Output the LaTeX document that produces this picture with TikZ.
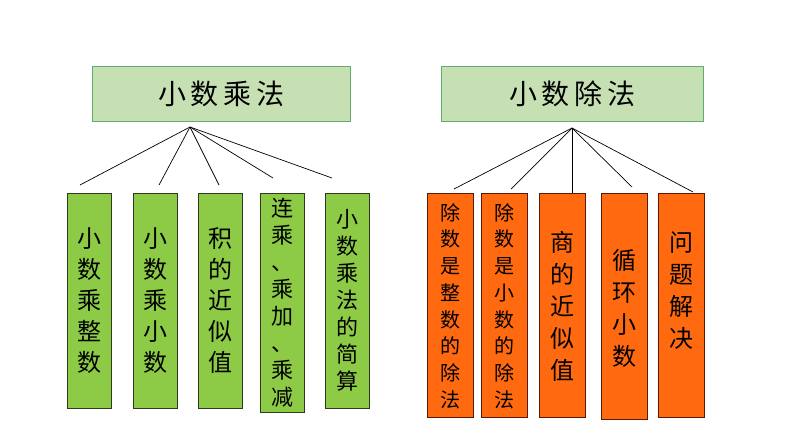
\documentclass[tikz,border=0pt]{standalone}
\usepackage{fontspec}
\setmainfont{Noto Sans CJK SC}
\usetikzlibrary{calc}

\definecolor{titlefill}{HTML}{C6E0B4}
\definecolor{titledraw}{HTML}{5FB070}
\definecolor{leaffill}{HTML}{8DCB47}
\definecolor{leafdraw}{HTML}{2F3A20}
\definecolor{divfill}{HTML}{FF6A10}
\definecolor{divdraw}{HTML}{5A1A00}

\begin{document}
\begin{tikzpicture}[x=1pt,y=-1pt]

\tikzset{title/.style = {draw=titledraw, fill=titlefill, line width=1pt, inner sep=0pt,
  minimum width=#1, minimum height=55pt, font=\fontsize{28}{32}\selectfont}}
\tikzset{gbox/.style = {draw=leafdraw, fill=leaffill, line width=0.9pt, inner sep=0pt,
  minimum width=44pt, minimum height=#1}}
\tikzset{obox/.style = {draw=divdraw, fill=divfill, line width=0.9pt, inner sep=0pt,
  minimum width=46pt, minimum height=#1}}
\tikzset{vtext/.style 2 args = {align=center, inner sep=0pt, font=\fontsize{#1}{#2}\selectfont}}
\tikzset{edge/.style = {line width=0.7pt, black}}

\useasboundingbox (0,0) rectangle (794,447);

%titles
\node[title=258pt] (mul) at (221,93.5) {小\,数\,乘\,法};
\node[title=262pt] (div) at (572,93.5) {小\,数\,除\,法};

%multiplication boxes
\node[gbox=215pt] (m1) at (89,300.5) {};
\node[gbox=215pt] (m2) at (155,300.5) {};
\node[gbox=215pt] (m3) at (220,300.5) {};
\node[gbox=219pt] (m4) at (282.5,302.5) {};
\node[gbox=215pt] (m5) at (347,300.5) {};
\node[vtext={24}{31}] (mt1) at (m1) {小\\数\\乘\\整\\数};
\node[vtext={24}{31}] (mt2) at (m2) {小\\数\\乘\\小\\数};
\node[vtext={24}{31}] (mt3) at (m3) {积\\的\\近\\似\\值};
\node[vtext={22}{27}] (mt4) at (m4) {连\\乘\\、\\乘\\加\\、\\乘\\减};
\node[vtext={22}{27}] (mt5) at (m5) {小\\数\\乘\\法\\的\\简\\算};

%division boxes
\node[obox=224pt] (d1) at (450,305) {};
\node[obox=224pt] (d2) at (504,305) {};
\node[obox=224pt] (d3) at (562.5,305) {};
\node[obox=226pt] (d4) at (624,306) {};
\node[obox=224pt] (d5) at (681,305) {};
\node[vtext={20}{26.7}] (dt1) at ([yshift=-1pt]d1.center) {除\\数\\是\\整\\数\\的\\除\\法};
\node[vtext={20}{26.7}] (dt2) at ([yshift=-1pt]d2.center) {除\\数\\是\\小\\数\\的\\除\\法};
\node[vtext={24}{32}] (dt3) at ([yshift=-1pt]d3.center) {商\\的\\近\\似\\值};
\node[vtext={24}{32}] (dt4) at ([yshift=-2pt]d4.center) {循\\环\\小\\数};
\node[vtext={24}{32}] (dt5) at ([yshift=14pt]d5.center) {问\\题\\解\\决};

%connectors
\coordinate (mtop) at (190,127);
\coordinate (dtop) at (572,128);
\foreach \x/\y [count=\i] in {80/185, 159/185, 219/185, 273/178, 332/178}
  \coordinate (me\i) at (\x,\y);
\foreach \x/\y [count=\i] in {454/189, 511/189, 572/193, 632/187, 693/192}
  \coordinate (de\i) at (\x,\y);
\foreach \i in {1,...,5} {
  \draw[edge] (mtop) -- (me\i);
  \draw[edge] (dtop) -- (de\i);
}

\end{tikzpicture}
\end{document}
